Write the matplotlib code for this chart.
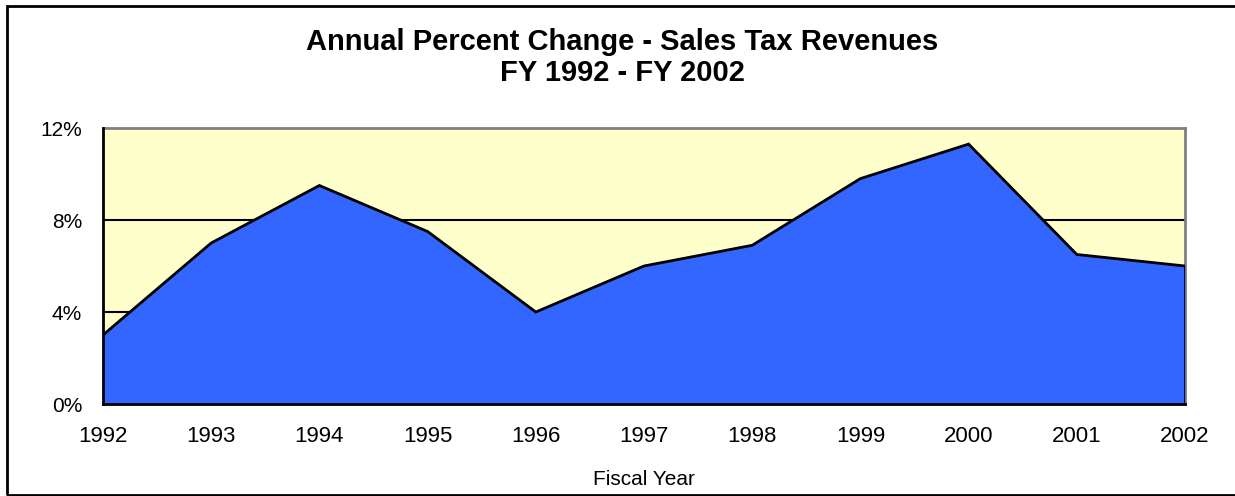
import matplotlib
matplotlib.use('Agg')
import matplotlib.pyplot as plt
from matplotlib.patches import Rectangle
import numpy as np

plt.rcParams.update({
    'font.family': ['Liberation Sans', 'DejaVu Sans'],
    'font.size': 15,
})

# ── Colours ───────────────────────────────────────────────────────────
AREA_CLR = '#3366FF'
BG_CLR   = '#FFFFCC'
EDGE_CLR = '#808080'

# ── Data ──────────────────────────────────────────────────────────────
years = [1992, 1993, 1994, 1995, 1996, 1997, 1998, 1999, 2000, 2001, 2002]
pct_change = [3.0, 7.0, 9.5, 7.5, 4.0, 6.0, 6.9, 9.8, 11.3, 6.5, 6.0]
y_ticks = [0, 4, 8, 12]
y_tick_labels = ['0%', '4%', '8%', '12%']

W, H = 1235, 496
fig = plt.figure(figsize=(W / 100, H / 100), dpi=100)
ax = fig.add_axes([103 / W, 1 - 404 / H, 1082 / W, 276 / H])
ax.set_facecolor(BG_CLR)

x = np.arange(len(years))
ax.fill_between(x, pct_change, 0, color=AREA_CLR, zorder=3, linewidth=0)
ax.plot(x, pct_change, color='black', lw=2, zorder=4, solid_joinstyle='miter')
ax.plot([x[-1], x[-1]], [0, pct_change[-1]], color='black', lw=2, zorder=4)

# gridlines
for yv in y_ticks[1:-1]:
    ax.axhline(yv, color='black', lw=1.5, zorder=2)

ax.set_xlim(x[0], x[-1])
ax.set_ylim(0, 12)
ax.set_yticks(y_ticks)
ax.set_yticklabels(y_tick_labels)
ax.set_xticks(x)
ax.set_xticklabels([str(y) for y in years])
ax.tick_params(axis='both', length=0)
ax.tick_params(axis='y', pad=15, labelsize=15)
ax.tick_params(axis='x', pad=16, labelsize=16)

ax.spines['top'].set_color(EDGE_CLR)
ax.spines['right'].set_color(EDGE_CLR)
for side in ['top', 'right', 'left', 'bottom']:
    ax.spines[side].set_linewidth(2)
ax.spines['left'].set_zorder(5)
ax.spines['bottom'].set_zorder(5)

# x axis title
fig.text(644 / W, 1 - 485 / H, 'Fiscal Year', ha='center', va='baseline',
         fontsize=15)

# chart title
fig.text(622 / W, 1 - 50 / H, 'Annual Percent Change - Sales Tax Revenues',
         ha='center', va='baseline', fontsize=21, fontweight='bold')
fig.text(622 / W, 1 - 81 / H, 'FY 1992 - FY 2002',
         ha='center', va='baseline', fontsize=21, fontweight='bold')

# outer frame
fig.patches.append(Rectangle((7 / W, 1 - 495 / H), 1.05, (495 - 6) / H,
                             transform=fig.transFigure, fill=False,
                             edgecolor='black', lw=2, clip_on=False))

fig.savefig('out.png', dpi=100, facecolor='white')
plt.close()
